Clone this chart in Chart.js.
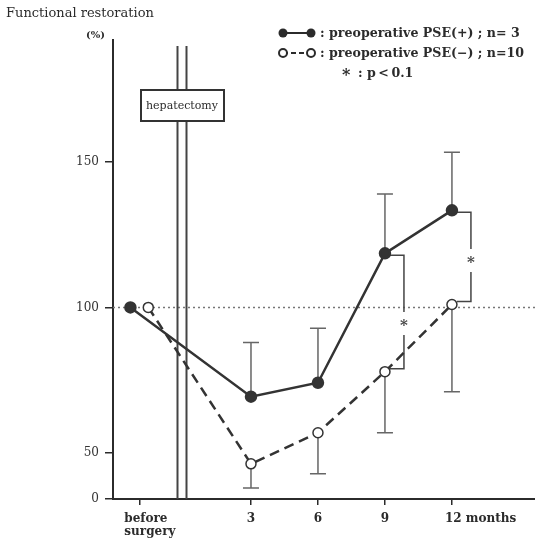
<!DOCTYPE html>
<html>
<head>
<meta charset="utf-8">
<script src="https://cdn.jsdelivr.net/npm/chart.js@4/dist/chart.umd.min.js"></script>
<style>
  html, body { margin: 0; padding: 0; background: #fff; }
  #wrap { width: 535px; height: 539px; }
</style>
</head>
<body>
<div id="wrap"><canvas id="chart"></canvas></div>
<script>
// months after surgery ("before surgery" sits at -2)
const months = [-2, 3, 6, 9, 12];
const tickLabels = [["before", "surgery"], ["3"], ["6"], ["9"], ["12 months"]];
const yTicks = [50, 100, 150];

// functional restoration (%)
const psePlus = [100, 69.3, 74.1, 118.6, 133.4];      // n=3
const pseMinus = [100, 46.2, 56.9, 77.9, 101];        // n=10
const psePlusUpper = [null, 87.9, 92.8, 139, 153.4];  // upper error bars
const pseMinusLower = [null, 37.9, 42.8, 56.9, 71];   // lower error bars

// significant differences (p<0.1) at these months
const sigMonths = [9, 12];

const Y_FLOOR = 34.1;   // broken axis: the bottom of the axis is labelled 0
const INK = "#2b2b2b";
const serif = "'DejaVu Serif', 'Liberation Serif', serif";

function toPoints(vals, shift) {
    return vals.map((v, i) => ({ x: months[i] + (i === 0 ? shift : 0), y: v }));
}

const extras = {
    id: "extras",
    beforeDatasetsDraw(chart) {
        const { ctx, chartArea: a, scales: { x, y } } = chart;
        ctx.save();
        // dotted 100% line
        ctx.strokeStyle = "#777";
        ctx.lineWidth = 1.5;
        ctx.setLineDash([2, 3]);
        ctx.beginPath();
        ctx.moveTo(a.left, y.getPixelForValue(100));
        ctx.lineTo(a.right, y.getPixelForValue(100));
        ctx.stroke();
        ctx.setLineDash([]);

        // hepatectomy double line
        const sx = x.getPixelForValue(0) - 2;
        ctx.strokeStyle = "#444";
        ctx.lineWidth = 2;
        [-4.5, 4.5].forEach(d => {
            ctx.beginPath();
            ctx.moveTo(sx + d, a.top + 6);
            ctx.lineTo(sx + d, a.bottom);
            ctx.stroke();
        });
        ctx.fillStyle = "#fff";
        ctx.fillRect(sx - 41, 90, 83, 31);
        ctx.strokeStyle = "#333";
        ctx.lineWidth = 2;
        ctx.strokeRect(sx - 41, 90, 83, 31);
        ctx.fillStyle = INK;
        ctx.font = "11px " + serif;
        ctx.textAlign = "center";
        ctx.textBaseline = "middle";
        ctx.fillText("hepatectomy", sx, 106);

        // error bars
        ctx.strokeStyle = "#666";
        ctx.lineWidth = 1.5;
        const bar = (m, from, to) => {
            const px = x.getPixelForValue(m);
            ctx.beginPath();
            ctx.moveTo(px, y.getPixelForValue(from));
            ctx.lineTo(px, y.getPixelForValue(to));
            ctx.moveTo(px - 8, y.getPixelForValue(to));
            ctx.lineTo(px + 8, y.getPixelForValue(to));
            ctx.stroke();
        };
        months.forEach((m, i) => {
            if (psePlusUpper[i] != null) bar(m, psePlus[i], psePlusUpper[i]);
            if (pseMinusLower[i] != null) bar(m, pseMinus[i], pseMinusLower[i]);
        });

        // significance brackets
        ctx.strokeStyle = "#444";
        ctx.lineWidth = 1.5;
        sigMonths.forEach(m => {
            const i = months.indexOf(m);
            const x0 = x.getPixelForValue(m) + 5;
            const x1 = x0 + 14;
            const yt = y.getPixelForValue(psePlus[i]) + 2;
            const yb = y.getPixelForValue(pseMinus[i]) - 3;
            const mid = (yt + yb) / 2 + (m === 9 ? 12 : 4);
            ctx.beginPath();
            ctx.moveTo(x0, yt); ctx.lineTo(x1, yt); ctx.lineTo(x1, mid - 12);
            ctx.moveTo(x1, mid + 11); ctx.lineTo(x1, yb); ctx.lineTo(x0, yb);
            ctx.stroke();
            ctx.fillStyle = "#444";
            ctx.font = "bold 15px " + serif;
            ctx.textAlign = "center";
            ctx.textBaseline = "middle";
            ctx.fillText("*", x1, mid + 2);
        });
        ctx.restore();
    },
    afterDraw(chart) {
        const { ctx, chartArea: a, scales: { x } } = chart;
        ctx.save();
        ctx.fillStyle = INK;
        ctx.textBaseline = "middle";
        // titles
        ctx.font = "13px " + serif;
        ctx.textAlign = "left";
        ctx.fillText("Functional restoration", 6, 14);
        ctx.font = "bold 10px " + serif;
        ctx.fillText("(%)", 86, 35);

        // x tick labels
        ctx.font = "bold 12px " + serif;
        months.forEach((m, i) => {
            const px = x.getPixelForValue(m);
            const lab = tickLabels[i];
            if (lab.length > 1) {
                ctx.textAlign = "left";
                lab.forEach((t, k) => ctx.fillText(t, px - 15, a.bottom + 20 + k * 13));
            } else if (lab[0].length > 2) {
                ctx.textAlign = "left";
                ctx.fillText(lab[0], px - 7, a.bottom + 20);
            } else {
                ctx.textAlign = "center";
                ctx.fillText(lab[0], px, a.bottom + 20);
            }
        });

        // legend
        ctx.lineWidth = 2;
        ctx.strokeStyle = INK;
        ctx.beginPath(); ctx.moveTo(283, 33); ctx.lineTo(311, 33); ctx.stroke();
        ctx.setLineDash([5, 3]);
        ctx.beginPath(); ctx.moveTo(283, 53); ctx.lineTo(311, 53); ctx.stroke();
        ctx.setLineDash([]);
        [283, 311].forEach(cx => {
            ctx.beginPath(); ctx.arc(cx, 33, 4.5, 0, Math.PI * 2); ctx.fill();
            ctx.beginPath(); ctx.arc(cx, 53, 4, 0, Math.PI * 2);
            ctx.fillStyle = "#fff"; ctx.fill(); ctx.stroke(); ctx.fillStyle = INK;
        });
        ctx.font = "bold 12.6px " + serif;
        ctx.textAlign = "left";
        ctx.fillText(": preoperative PSE(+) ; n= 3", 320, 34);
        ctx.fillText(": preoperative PSE(\u2212) ; n=10", 320, 54);
        ctx.font = "bold 16px " + serif;
        ctx.fillText("*", 342, 76);
        ctx.font = "bold 12.6px " + serif;
        ctx.fillText(": p\u2009<\u20090.1", 358, 74);
        ctx.restore();
    }
};

new Chart(document.getElementById("chart").getContext("2d"), {
    type: "scatter",
    data: {
        datasets: [{
            label: "preoperative PSE(+) ; n= 3",
            data: toPoints(psePlus, -0.4),
            showLine: true,
            borderColor: "#333",
            borderWidth: 2.5,
            pointRadius: 5,
            pointBackgroundColor: "#333",
            pointBorderColor: "#333"
        }, {
            label: "preoperative PSE(-) ; n=10",
            data: toPoints(pseMinus, 0.4),
            showLine: true,
            borderColor: "#333",
            borderWidth: 2.5,
            borderDash: [10, 6],
            pointRadius: 5,
            pointBorderWidth: 1.5,
            pointBackgroundColor: "#fff",
            pointBorderColor: "#333"
        }]
    },
    options: {
        responsive: true,
        maintainAspectRatio: false,
        animation: false,
        layout: { autoPadding: false, padding: { top: 40, left: 0, right: 0, bottom: 0 } },
        plugins: { legend: { display: false }, tooltip: { enabled: false } },
        scales: {
            x: {
                type: "linear",
                min: -3.18,
                max: 15.72,
                afterBuildTicks: s => { s.ticks = months.map(v => ({ value: v })); },
                afterFit: s => { s.height = 40; },
                ticks: { display: false },
                grid: { drawOnChartArea: false, tickLength: 6, color: INK, lineWidth: 1.5 },
                border: { color: INK, width: 2 }
            },
            y: {
                min: Y_FLOOR,
                max: 192,
                afterBuildTicks: s => { s.ticks = [Y_FLOOR].concat(yTicks).map(v => ({ value: v })); },
                afterFit: s => { s.width = 113; },
                ticks: {
                    callback: v => (v < 50 ? "0" : v),
                    color: "#333",
                    font: { family: serif, size: 12 },
                    padding: 6
                },
                grid: { drawOnChartArea: false, tickLength: 8, color: INK, lineWidth: 1.5 },
                border: { color: INK, width: 2 }
            }
        }
    },
    plugins: [extras]
});
</script>
</body>
</html>
